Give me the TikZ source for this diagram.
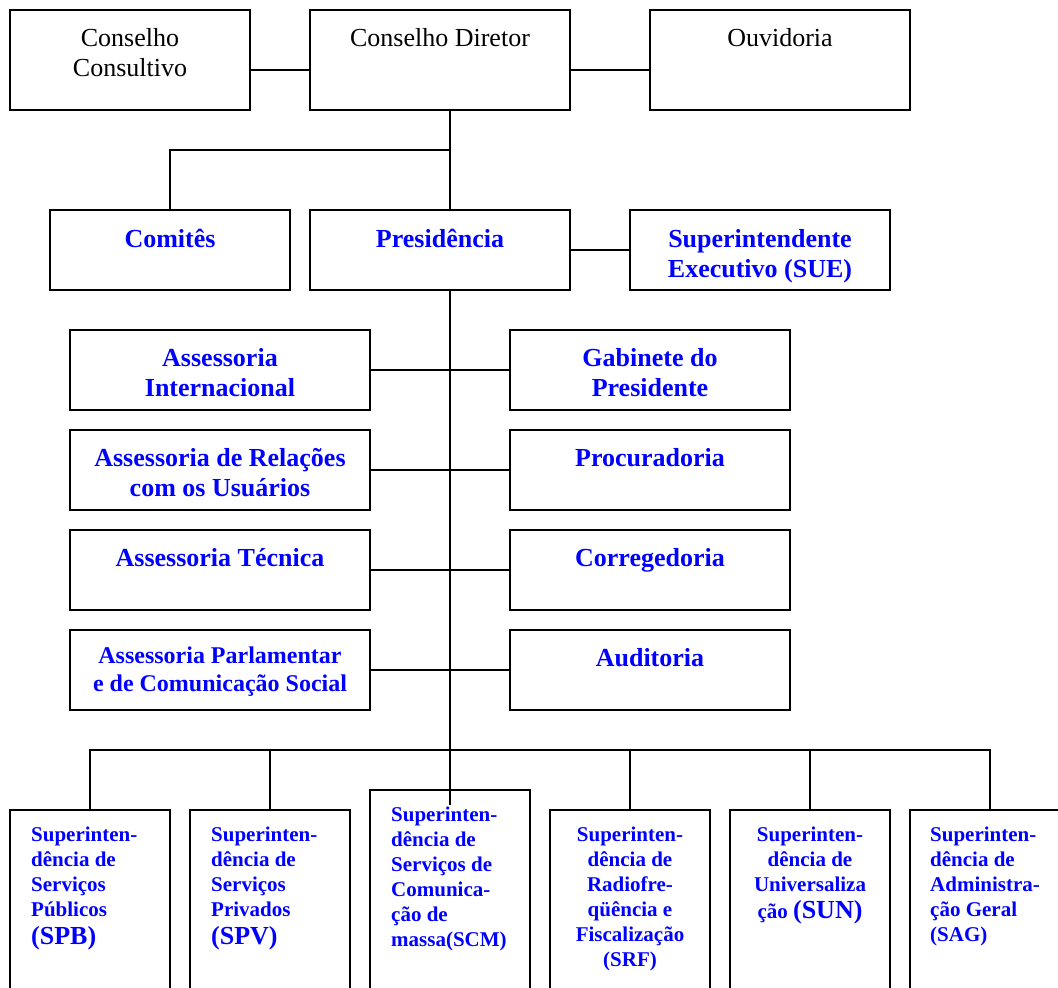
\documentclass[tikz,border=0pt]{standalone}
\usepackage{fontspec}
\setmainfont{Liberation Serif}
\begin{document}
\begin{tikzpicture}[x=1pt,y=-1pt,
  box/.style={draw, line width=1.9pt, inner sep=0pt, outer sep=0pt},
  conn/.style={line width=1.9pt},
  tblack/.style={font=\fontsize{26}{30}\selectfont, inner sep=0pt, align=center},
  tblue/.style={font=\bfseries\fontsize{26}{30}\selectfont, text=blue, inner sep=0pt, align=center},
  tbluesm/.style={font=\bfseries\fontsize{24}{28}\selectfont, text=blue, inner sep=0pt, align=center},
  tbot/.style={font=\bfseries\fontsize{21}{25}\selectfont, text=blue, inner sep=0pt},
  topbox/.style={box, minimum width=#1, minimum height=100pt},
  midbox/.style={box, minimum width=#1, minimum height=80pt},
  botbox/.style={box, minimum width=160pt, minimum height=200pt}
]
\useasboundingbox (0,0) rectangle (1058,988);
% top row
\node[topbox=240pt, label={[tblack,anchor=north,yshift=-15pt]north:{\strut Conselho\\Consultivo}}] (cc) at (130,60) {};
\node[topbox=260pt, label={[tblack,anchor=north,yshift=-15pt]north:{\strut Conselho Diretor}}] (cd) at (440,60) {};
\node[topbox=260pt, label={[tblack,anchor=north,yshift=-15pt]north:{\strut Ouvidoria}}] (ouv) at (780,60) {};
% second row
\node[midbox=240pt, label={[tblue,anchor=north,yshift=-16pt]north:{\strut Comitês}}] (com) at (170,250) {};
\node[midbox=260pt, label={[tblue,anchor=north,yshift=-16pt]north:{\strut Presidência}}] (pres) at (440,250) {};
\node[midbox=260pt, label={[tblue,anchor=north,yshift=-16pt]north:{\strut Superintendente\\Executivo (SUE)}}] (sue) at (760,250) {};
% middle rows
\node[midbox=300pt, label={[tblue,anchor=north,yshift=-15pt]north:{\strut Assessoria\\Internacional}}] (ai) at (220,370) {};
\node[midbox=280pt, label={[tblue,anchor=north,yshift=-15pt]north:{\strut Gabinete do\\Presidente}}] (gp) at (650,370) {};
\node[midbox=300pt, label={[tblue,anchor=north,yshift=-15pt]north:{\strut Assessoria de Relações\\com os Usuários}}] (aru) at (220,470) {};
\node[midbox=280pt, label={[tblue,anchor=north,yshift=-15pt]north:{\strut Procuradoria}}] (proc) at (650,470) {};
\node[midbox=300pt, label={[tblue,anchor=north,yshift=-15pt]north:{\strut Assessoria Técnica}}] (at) at (220,570) {};
\node[midbox=280pt, label={[tblue,anchor=north,yshift=-15pt]north:{\strut Corregedoria}}] (corr) at (650,570) {};
\node[midbox=300pt, label={[tbluesm,anchor=north,yshift=-13.5pt]north:{\strut Assessoria Parlamentar\\e de Comunicação Social}}] (apc) at (220,670) {};
\node[midbox=280pt, label={[tblue,anchor=north,yshift=-15pt]north:{\strut Auditoria}}] (aud) at (650,670) {};
% bottom row
\node[botbox, label={[tbot,align=left,anchor=north west,xshift=21pt,yshift=-13.5pt]north west:{\strut Superinten-\\dência de\\Serviços\\Públicos\\[3pt]{\fontsize{26}{26}\selectfont (SPB)}}}] (s1) at (90,910) {};
\node[botbox, label={[tbot,align=left,anchor=north west,xshift=21pt,yshift=-13.5pt]north west:{\strut Superinten-\\dência de\\Serviços\\Privados\\[3pt]{\fontsize{26}{26}\selectfont (SPV)}}}] (s2) at (270,910) {};
\node[botbox, label={[tbot,align=left,anchor=north west,xshift=21pt,yshift=-13.5pt]north west:{\strut Superinten-\\dência de\\Serviços de\\Comunica-\\ção de\\massa(SCM)}}] (s3) at (450,890) {};
\node[botbox, label={[tbot,align=center,anchor=north,yshift=-13.5pt]north:{\strut Superinten-\\dência de\\Radiofre-\\qüência e\\Fiscalização\\(SRF)}}] (s4) at (630,910) {};
\node[botbox, label={[tbot,align=center,anchor=north,yshift=-13.5pt]north:{\strut Superinten-\\dência de\\Universaliza\\[2pt]ção {\fontsize{26}{26}\selectfont (SUN)}}}] (s5) at (810,910) {};
\node[botbox, label={[tbot,align=left,anchor=north west,xshift=20pt,yshift=-13.5pt]north west:{\strut Superinten-\\dência de\\Administra-\\ção Geral\\(SAG)}}] (s6) at (990,910) {};
% connectors
\draw[conn] ([yshift=-10pt]cc.east) -- ([yshift=-10pt]cd.west);
\draw[conn] ([yshift=-10pt]cd.east) -- ([yshift=-10pt]ouv.west);
\coordinate (j1) at (450,150);
\draw[conn] ([xshift=10pt]cd.south) -- ([xshift=10pt]pres.north);
\draw[conn] (com.north) |- (j1);
\draw[conn] (pres.east) -- (sue.west);
\coordinate (tail) at (450,805);
\draw[conn] ([xshift=10pt]pres.south) -- (tail);
\draw[conn] (ai.east) -- (gp.west);
\draw[conn] (aru.east) -- (proc.west);
\draw[conn] (at.east) -- (corr.west);
\draw[conn] (apc.east) -- (aud.west);
\coordinate (bus) at (450,750);
\draw[conn] (s1.north) |- (bus) -| (s6.north);
\draw[conn] (s2.north) -- (s2.north |- bus);
\draw[conn] (s4.north) -- (s4.north |- bus);
\draw[conn] (s5.north) -- (s5.north |- bus);
\end{tikzpicture}
\end{document}
